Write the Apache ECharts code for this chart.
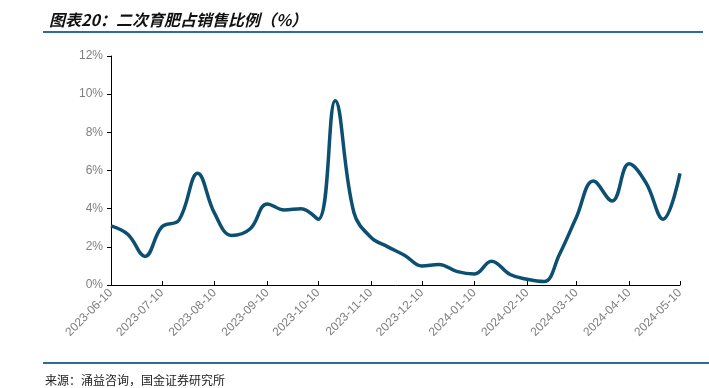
<!DOCTYPE html>
<html>
<head>
<meta charset="utf-8">
<script src="https://cdn.jsdelivr.net/npm/echarts@6/dist/echarts.min.js"></script>
<style>html,body{margin:0;padding:0;background:#fff;}#c{width:709px;height:388px;}</style>
</head>
<body>
<div id="c"></div>
<script>
var titleText = '图表20：二次育肥占销售比例（%）';
var sourceText = '来源：涌益咨询，国金证券研究所';
var dates = ['2023-06-10','2023-06-20','2023-06-30','2023-07-10','2023-07-20','2023-07-31','2023-08-10','2023-08-20','2023-08-31','2023-09-10','2023-09-20','2023-09-30','2023-10-10','2023-10-20','2023-10-31','2023-11-10','2023-11-20','2023-11-30','2023-12-10','2023-12-20','2023-12-31','2024-01-10','2024-01-20','2024-01-31','2024-02-10','2024-02-20','2024-02-29','2024-03-10','2024-03-20','2024-03-31','2024-04-10','2024-04-20','2024-04-30','2024-05-10'];
var values = [3.1, 2.65, 1.5, 3.05, 3.4, 5.85, 3.75, 2.6, 2.95, 4.25, 3.93, 4.0, 3.45, 9.65, 3.8, 2.5, 2.0, 1.55, 1.0, 1.08, 0.7, 0.58, 1.25, 0.55, 0.3, 0.18, 1.6, 3.55, 5.45, 4.4, 6.35, 5.35, 3.45, 5.85];
var tickLabels = ['2023-06-10','2023-07-10','2023-08-10','2023-09-10','2023-10-10','2023-11-10','2023-12-10','2024-01-10','2024-02-10','2024-03-10','2024-04-10','2024-05-10'];

function ts(s){var p=s.split('-');return Date.UTC(+p[0],+p[1]-1,+p[2]);}
function fmt(v){var d=new Date(v);var m=d.getUTCMonth()+1,day=d.getUTCDate();return d.getUTCFullYear()+'-'+(m<10?'0':'')+m+'-'+(day<10?'0':'')+day;}
var tickTs = tickLabels.map(ts);
var seriesData = dates.map(function(d,i){return [ts(d), values[i]];});

var chart = echarts.init(document.getElementById('c'));
chart.setOption({
  animation:false,
  backgroundColor:'#fff',
  title:{text:titleText,left:44,top:7,textStyle:{fontFamily:'Noto Sans CJK SC',fontSize:16,fontWeight:'bold',fontStyle:'italic',color:'#111'}},
  grid:{left:111,right:29,top:56,bottom:103},
  xAxis:{
    type:'value',
    min:tickTs[0], max:tickTs[tickTs.length-1],
    splitLine:{show:false},
    axisLine:{lineStyle:{color:'#000',width:1}},
    axisTick:{show:true,inside:true,length:4,customValues:tickTs,lineStyle:{color:'#000'}},
    axisLabel:{customValues:tickTs,rotate:45,color:'#7f7f7f',fontSize:12,fontFamily:'Liberation Sans',formatter:function(v){return fmt(v);},margin:6}
  },
  yAxis:{
    type:'value',min:0,max:12,interval:2,
    splitLine:{show:false},
    axisLine:{show:true,lineStyle:{color:'#000',width:1}},
    axisTick:{show:true,length:4,lineStyle:{color:'#000'}},
    axisLabel:{formatter:'{value}%',color:'#7f7f7f',fontSize:12,fontFamily:'Liberation Sans',margin:8}
  },
  series:[{
    type:'line',data:seriesData,smooth:0.4,showSymbol:false,
    lineStyle:{color:'#0b4f71',width:3.5},
    itemStyle:{color:'#0b4f71'}
  }],
  graphic:[
    {type:'line',shape:{x1:43,y1:32,x2:703,y2:32},style:{stroke:'#2f6d94',lineWidth:2}},
    {type:'line',shape:{x1:43,y1:363,x2:709,y2:363},style:{stroke:'#2f6d94',lineWidth:2}},
    {type:'text',left:45,top:374,style:{text:sourceText,fontFamily:'Noto Sans CJK SC',fontSize:12,fill:'#222'}}
  ]
});
</script>
</body>
</html>
